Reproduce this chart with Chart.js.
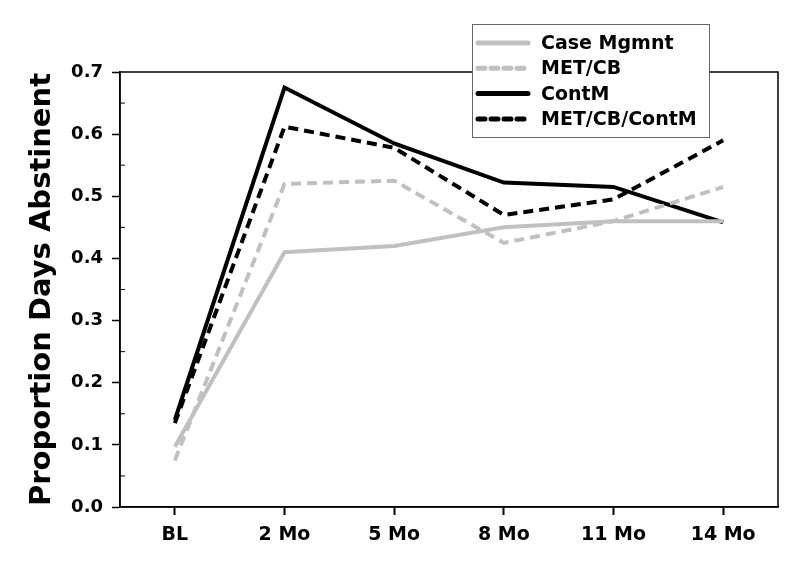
<!DOCTYPE html>
<html>
<head>
<meta charset="utf-8">
<script src="https://cdn.jsdelivr.net/npm/chart.js@4"></script>
<style>
  html, body { margin: 0; padding: 0; background: #fff; }
  #wrap { width: 800px; height: 576px; }
</style>
</head>
<body>
<div id="wrap"><canvas id="chart" width="800" height="576"></canvas></div>
<script>
const timepoints = ["BL", "2 Mo", "5 Mo", "8 Mo", "11 Mo", "14 Mo"];
const caseMgmnt = [0.097, 0.41, 0.42, 0.45, 0.46, 0.46];
const metCb = [0.075, 0.52, 0.525, 0.425, 0.46, 0.515];
const contM = [0.14, 0.675, 0.585, 0.522, 0.515, 0.458];
const metCbContM = [0.135, 0.612, 0.578, 0.47, 0.495, 0.59];
const yTicks = [0, 0.1, 0.2, 0.3, 0.4, 0.5, 0.6, 0.7];

const FONT = "'DejaVu Sans', 'Liberation Sans', sans-serif";
const GRAY = "#c0c0c0";

function line(label, data, color, dash) {
  return {
    label,
    data,
    borderColor: color,
    borderWidth: 4,
    borderDash: dash,
    pointRadius: 0,
    tension: 0,
    fill: false,
  };
}

// frame, inward minor ticks, and the boxed legend
const decor = {
  id: "decor",
  afterDatasetsDraw(chart) {
    const { ctx, chartArea: a, scales } = chart;
    ctx.save();
    ctx.strokeStyle = "#000";
    ctx.lineWidth = 1.5;
    ctx.strokeRect(a.left, a.top, a.right - a.left, a.bottom - a.top);

    ctx.lineWidth = 1;
    for (let i = 0; i < yTicks.length - 1; i++) {
      const y = scales.y.getPixelForValue((yTicks[i] + yTicks[i + 1]) / 2);
      ctx.beginPath();
      ctx.moveTo(a.left, y);
      ctx.lineTo(a.left + 5, y);
      ctx.stroke();
    }

    const bx = 472, by = 24, bw = 237, bh = 113;
    ctx.fillStyle = "#fff";
    ctx.fillRect(bx, by, bw, bh);
    ctx.strokeStyle = "#666";
    ctx.lineWidth = 1;
    ctx.strokeRect(bx + 0.5, by + 0.5, bw, bh);

    ctx.font = "bold 19px " + FONT;
    ctx.textBaseline = "middle";
    chart.data.datasets.forEach((ds, i) => {
      const y = 43 + i * 25.3;
      ctx.strokeStyle = ds.borderColor;
      ctx.lineWidth = 5;
      ctx.lineCap = "round";
      ctx.setLineDash(ds.borderDash.length ? [7, 6] : []);
      ctx.beginPath();
      ctx.moveTo(478, y);
      ctx.lineTo(528, y);
      ctx.stroke();
      ctx.setLineDash([]);
      ctx.fillStyle = "#000";
      ctx.fillText(ds.label, 541, y + 1);
    });
    ctx.restore();
  },
};

new Chart(document.getElementById("chart"), {
  type: "line",
  data: {
    labels: timepoints,
    datasets: [
      line("Case Mgmnt", caseMgmnt, GRAY, []),
      line("MET/CB", metCb, GRAY, [10, 6]),
      line("ContM", contM, "#000", []),
      line("MET/CB/ContM", metCbContM, "#000", [10, 6]),
    ],
  },
  options: {
    responsive: false,
    animation: false,
    layout: { padding: { top: 72, right: 22, left: 0, bottom: 0 } },
    plugins: { legend: { display: false }, tooltip: { enabled: false } },
    scales: {
      x: {
        offset: true,
        grid: { drawOnChartArea: false, offset: false, tickLength: 8, color: "#000", tickWidth: 2 },
        border: { color: "#000", width: 1.5 },
        ticks: { color: "#000", font: { family: FONT, size: 19, weight: "bold" }, padding: 9 },
        afterFit(s) { s.height = 69; },
      },
      y: {
        min: 0,
        max: 0.7,
        afterBuildTicks(s) { s.ticks = yTicks.map((v) => ({ value: v })); },
        grid: { drawOnChartArea: false, tickLength: 8, color: "#000", tickWidth: 1.5 },
        border: { color: "#000", width: 1.5 },
        ticks: {
          color: "#000",
          font: { family: FONT, size: 18, weight: "bold" },
          padding: 9,
          callback: (v) => Number(v).toFixed(1),
        },
        title: {
          display: true,
          text: "Proportion Days Abstinent",
          color: "#000",
          font: { family: FONT, size: 29, weight: "bold" },
          padding: { top: 25, bottom: 0 },
        },
        afterFit(s) { s.width = 120; },
      },
    },
  },
  plugins: [decor],
});
</script>
</body>
</html>
